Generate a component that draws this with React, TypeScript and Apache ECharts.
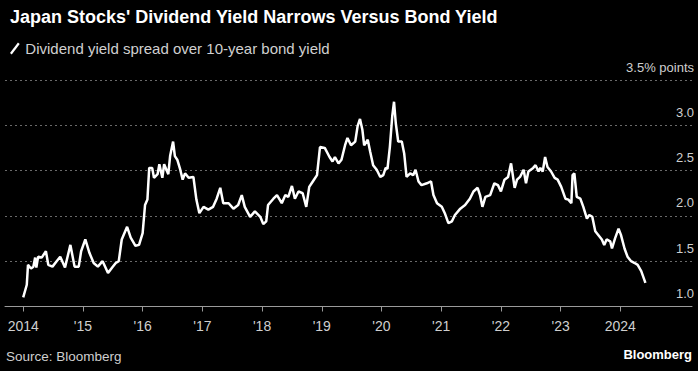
import React, { useEffect, useRef } from "react";
import * as echarts from "echarts";

// Decimal year positions of the traced points
const years: number[] = [
  2014.0, 2014.06, 2014.08, 2014.13, 2014.17, 2014.2, 2014.22, 2014.25, 2014.31, 2014.38, 2014.42, 2014.49, 2014.56, 2014.62, 2014.7, 2014.79, 2014.86, 2014.93, 2014.97,
  2015.04, 2015.11, 2015.18, 2015.25, 2015.33, 2015.42, 2015.49, 2015.55, 2015.6, 2015.65, 2015.74, 2015.8, 2015.88, 2015.94,
  2016.0, 2016.04, 2016.08, 2016.11, 2016.16, 2016.19, 2016.25, 2016.28, 2016.33, 2016.36, 2016.43, 2016.46, 2016.51, 2016.54, 2016.58, 2016.63, 2016.67, 2016.71, 2016.77, 2016.85, 2016.9, 2016.95,
  2017.02, 2017.1, 2017.18, 2017.24, 2017.3, 2017.35, 2017.44, 2017.52, 2017.6, 2017.66, 2017.71, 2017.8, 2017.88, 2017.97,
  2018.02, 2018.07, 2018.1, 2018.19, 2018.25, 2018.33, 2018.39, 2018.44, 2018.5, 2018.55, 2018.61, 2018.68, 2018.74, 2018.79, 2018.85, 2018.92, 2018.97,
  2019.05, 2019.13, 2019.18, 2019.22, 2019.28, 2019.33, 2019.39, 2019.43, 2019.49, 2019.56, 2019.6, 2019.64, 2019.68, 2019.71, 2019.77, 2019.81, 2019.86, 2019.92, 2019.98,
  2020.03, 2020.07, 2020.1, 2020.14, 2020.18, 2020.21, 2020.24, 2020.28, 2020.34, 2020.38, 2020.42, 2020.48, 2020.53, 2020.57, 2020.62, 2020.67, 2020.76, 2020.83, 2020.87, 2020.93,
  2021.01, 2021.06, 2021.12, 2021.18, 2021.23, 2021.32, 2021.4, 2021.48, 2021.54, 2021.61, 2021.65, 2021.69, 2021.74, 2021.82, 2021.89, 2021.95,
  2022.0, 2022.06, 2022.12, 2022.17, 2022.23, 2022.27, 2022.32, 2022.38, 2022.42, 2022.46, 2022.54, 2022.58, 2022.63, 2022.66, 2022.7, 2022.74, 2022.78, 2022.84, 2022.9, 2022.95,
  2023.01, 2023.08, 2023.13, 2023.18, 2023.2, 2023.23, 2023.27, 2023.33, 2023.38, 2023.44, 2023.48, 2023.53, 2023.58, 2023.63, 2023.69, 2023.73, 2023.77, 2023.83, 2023.86, 2023.91, 2023.97,
  2024.01, 2024.07, 2024.12, 2024.18, 2024.24, 2024.29, 2024.35, 2024.42,
];

// Dividend yield spread over 10-year bond yield (percentage points)
const spread: number[] = [
  1.1, 1.24, 1.46, 1.42, 1.44, 1.54, 1.43, 1.55, 1.54, 1.61, 1.46, 1.44, 1.5, 1.55, 1.43, 1.68, 1.44, 1.44, 1.61,
  1.74, 1.59, 1.48, 1.44, 1.5, 1.37, 1.43, 1.48, 1.5, 1.74, 1.88, 1.76, 1.67, 1.68,
  1.81, 2.12, 2.18, 2.53, 2.53, 2.42, 2.46, 2.57, 2.42, 2.57, 2.46, 2.66, 2.82, 2.66, 2.62, 2.51, 2.4, 2.47, 2.42, 2.43, 2.18, 2.03,
  2.1, 2.07, 2.1, 2.19, 2.31, 2.14, 2.14, 2.08, 2.12, 2.23, 2.1, 1.99, 2.05, 1.99,
  1.91, 1.94, 2.12, 2.19, 2.23, 2.14, 2.23, 2.21, 2.33, 2.19, 2.27, 2.25, 2.1, 2.32, 2.38, 2.45, 2.76,
  2.75, 2.65, 2.6, 2.65, 2.58, 2.62, 2.78, 2.86, 2.78, 2.82, 2.99, 3.07, 2.95, 2.78, 2.84, 2.71, 2.56, 2.51, 2.43,
  2.45, 2.53, 2.52, 2.76, 3.1, 3.26, 3.02, 2.82, 2.82, 2.69, 2.43, 2.47, 2.45, 2.51, 2.38, 2.34, 2.36, 2.38, 2.23, 2.14,
  2.1, 2.03, 1.92, 1.94, 2.01, 2.08, 2.12, 2.19, 2.27, 2.31, 2.23, 2.1, 2.21, 2.23, 2.36, 2.34,
  2.27, 2.4, 2.43, 2.58, 2.31, 2.4, 2.43, 2.51, 2.36, 2.49, 2.53, 2.56, 2.49, 2.53, 2.49, 2.65, 2.54, 2.49, 2.42, 2.4,
  2.32, 2.19, 2.18, 2.14, 2.45, 2.47, 2.21, 2.19, 2.1, 1.97, 2.01, 1.99, 1.83, 1.79, 1.74, 1.68, 1.74, 1.72, 1.64, 1.75, 1.86,
  1.79, 1.64, 1.55, 1.5, 1.48, 1.46, 1.39, 1.26,
];

const xTicks: number[] = [2014, 2015, 2016, 2017, 2018, 2019, 2020, 2021, 2022, 2023, 2024];
const xTickLabels: string[] = ["2014", "'15", "'16", "'17", "'18", "'19", "'20", "'21", "'22", "'23", "2024"];

const seriesName = "Dividend yield spread over 10-year bond yield";
const titleText = "Japan Stocks' Dividend Yield Narrows Versus Bond Yield";

export default function App() {
  const ref = useRef<HTMLDivElement>(null);
  useEffect(() => {
    if (!ref.current) return;
    const chart = echarts.init(ref.current, null, { renderer: "svg" });
    const sans = "'Liberation Sans', Arial, sans-serif";
    chart.setOption({
      animation: false,
      backgroundColor: "#000000",
      title: {
        text: titleText,
        left: 5,
        top: 3,
        textStyle: { color: "#ffffff", fontSize: 18, fontWeight: "bold", fontFamily: sans },
      },
      legend: {
        left: 5,
        top: 36,
        itemWidth: 11,
        itemHeight: 12,
        itemGap: 10,
        icon: "path://M0,12 L9,0 L11,1.6 L2,13.6 Z",
        textStyle: { color: "#d0d0d0", fontSize: 15, fontFamily: sans },
        data: [seriesName],
      },
      grid: {
        left: 5,
        right: 6,
        top: 80,
        bottom: 64.5,
        containLabel: false,
        outerBoundsMode: "none",
      },
      xAxis: {
        type: "value",
        min: 2013.695,
        max: 2025.2,
        splitLine: { show: false },
        axisLine: { show: true, lineStyle: { color: "#9a9a9a", width: 1 } },
        axisTick: {
          show: true,
          customValues: xTicks,
          length: 5,
          lineStyle: { color: "#9a9a9a" },
        },
        axisLabel: {
          customValues: xTicks,
          margin: 12,
          color: "#cfcfcf",
          fontSize: 14,
          fontFamily: sans,
          formatter: (v: number) => {
            const i = xTicks.indexOf(Math.round(v));
            return i >= 0 ? xTickLabels[i] : "";
          },
        },
      },
      yAxis: {
        type: "value",
        position: "right",
        min: 1,
        max: 3.5,
        interval: 0.5,
        axisLine: { show: false },
        axisTick: { show: false },
        splitLine: {
          show: true,
          lineStyle: { color: "#6a6a6a", type: [2, 3], width: 1 },
        },
        axisLabel: {
          inside: true,
          margin: -2,
          align: "right",
          verticalAlign: "bottom",
          lineHeight: 14,
          padding: [0, 0, 6, 0],
          color: "#cfcfcf",
          fontSize: 13,
          fontFamily: sans,
          showMinLabel: true,
          showMaxLabel: true,
          formatter: (v: number) => (Math.abs(v - 3.5) < 1e-6 ? "3.5% points" : v.toFixed(1)),
        },
      },
      graphic: [
        {
          type: "text",
          left: 6,
          top: 349,
          style: { text: "Source: Bloomberg", fill: "#cfcfcf", fontSize: 13.5, fontFamily: sans },
        },
        {
          type: "text",
          right: 6,
          top: 348,
          style: { text: "Bloomberg", fill: "#ffffff", fontSize: 13, fontWeight: "bold", fontFamily: sans },
        },
      ],
      series: [
        {
          name: seriesName,
          type: "line",
          data: years.map((y, i) => [y, spread[i]]),
          showSymbol: false,
          symbol: "none",
          lineStyle: { color: "#ffffff", width: 2.5 },
          itemStyle: { color: "#ffffff" },
          smooth: false,
        },
      ],
    });
    return () => chart.dispose();
  }, []);
  return (
    <div
      ref={ref}
      style={{ position: "fixed", left: 0, top: 0, width: 698, height: 371 }}
    />
  );
}
